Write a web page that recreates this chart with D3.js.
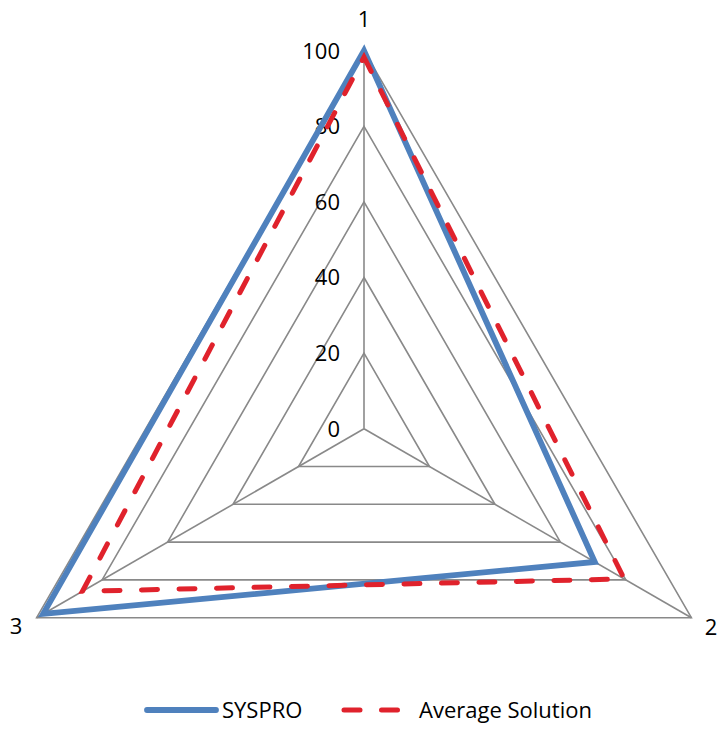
<!DOCTYPE html>
<html>
<head>
<meta charset="utf-8">
<script src="https://cdn.jsdelivr.net/npm/d3@7"></script>
<style>
  html, body { margin: 0; padding: 0; background: #fff; }
  svg { display: block; }
  text { font-family: "Open Sans", "Noto Sans", sans-serif; fill: #000; }
</style>
</head>
<body>
<svg id="chart" width="718" height="729"></svg>
<script>
const axesLabels = ["1", "2", "3"];
const tickValues = [0, 20, 40, 60, 80, 100];
const seriesNames = ["SYSPRO", "Average Solution"];
const sysproValues = [100, 70.5, 98];
const averageValues = [98.3, 79.5, 86];

const W = 718, H = 729;
const cx = 364, cy = 428.7, R = 378;
const svg = d3.select("#chart");

const r = d3.scaleLinear().domain([0, 100]).range([0, R]);
const angle = d3.scaleLinear().domain([0, axesLabels.length]).range([-Math.PI / 2, 1.5 * Math.PI]);

function pt(i, v) {
  const a = angle(i);
  return [cx + r(v) * Math.cos(a), cy + r(v) * Math.sin(a)];
}

const line = d3.line().curve(d3.curveLinearClosed);
const gridColor = "#898989";
const fs = 22;

// grid rings
const g = svg.append("g");
g.selectAll("path.ring").data(tickValues.filter(t => t > 0)).join("path")
  .attr("class", "ring")
  .attr("d", t => line(axesLabels.map((_, i) => pt(i, t))))
  .attr("fill", "none").attr("stroke", gridColor).attr("stroke-width", 1.6);

// spokes
g.selectAll("line.spoke").data(axesLabels).join("line")
  .attr("class", "spoke")
  .attr("x1", cx).attr("y1", cy)
  .attr("x2", (_, i) => pt(i, 100)[0]).attr("y2", (_, i) => pt(i, 100)[1])
  .attr("stroke", gridColor).attr("stroke-width", 1.6);

// tick labels
g.selectAll("text.tick").data(tickValues).join("text")
  .attr("class", "tick")
  .attr("x", cx - 24)
  .attr("y", t => cy - r(t))
  .attr("dy", "0.36em")
  .attr("text-anchor", "end")
  .attr("font-size", fs)
  .text(t => t);

// axis labels
const labelPos = [[364, 19.5], [711, 627], [16, 626]];
g.selectAll("text.axlab").data(axesLabels).join("text")
  .attr("class", "axlab")
  .attr("x", (_, i) => labelPos[i][0])
  .attr("y", (_, i) => labelPos[i][1])
  .attr("dy", "0.36em")
  .attr("text-anchor", "middle")
  .attr("font-size", fs)
  .text(d => d);

const colors = { "SYSPRO": "#4f81bd", "Average Solution": "#e0222c" };

// series
svg.append("path")
  .attr("d", line(sysproValues.map((v, i) => pt(i, v))))
  .attr("fill", "none")
  .attr("stroke", colors["SYSPRO"])
  .attr("stroke-width", 5.8)
  .attr("stroke-linejoin", "miter");

svg.append("path")
  .attr("d", line(averageValues.map((v, i) => pt(i, v))))
  .attr("fill", "none")
  .attr("stroke", colors["Average Solution"])
  .attr("stroke-width", 5)
  .attr("stroke-linecap", "round")
  .attr("stroke-dasharray", "16 21.5");

// legend
const lg = svg.append("g");
lg.append("line").attr("x1", 147).attr("x2", 216).attr("y1", 710).attr("y2", 710)
  .attr("stroke", colors["SYSPRO"]).attr("stroke-width", 5.8).attr("stroke-linecap", "round");
lg.append("text").attr("x", 222).attr("y", 710).attr("dy", "0.36em").attr("font-size", fs).text(seriesNames[0]);
lg.append("line").attr("x1", 344).attr("x2", 398).attr("y1", 710).attr("y2", 710)
  .attr("stroke", colors["Average Solution"]).attr("stroke-width", 5).attr("stroke-linecap", "round")
  .attr("stroke-dasharray", "16 21.5");
lg.append("text").attr("x", 419).attr("y", 710).attr("dy", "0.36em").attr("font-size", fs).text(seriesNames[1]);
</script>
</body>
</html>
